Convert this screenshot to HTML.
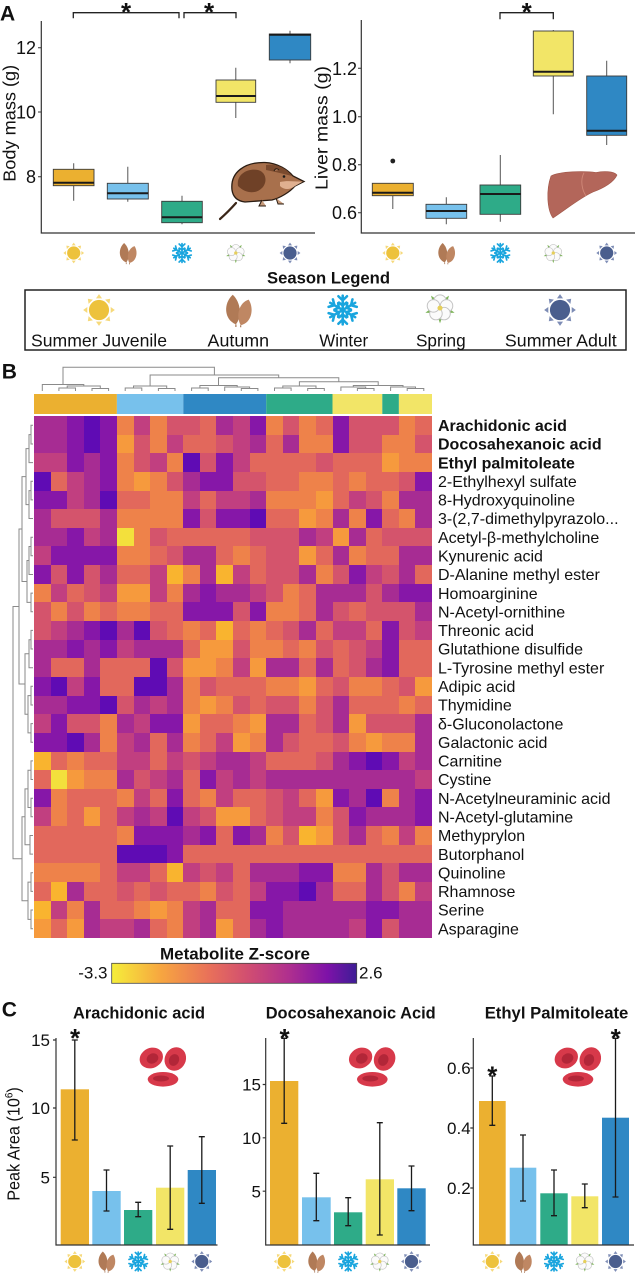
<!DOCTYPE html>
<html><head><meta charset="utf-8"><style>
html,body{margin:0;padding:0;background:#fff;}
body{width:639px;height:1280px;position:relative;overflow:hidden;}
svg.main{position:absolute;left:0;top:0;}
.h{position:absolute;left:34px;top:416px;width:398px;height:522px;display:grid;grid-template-columns:repeat(24,1fr);grid-template-rows:repeat(28,1fr);}
.h i{display:block;}
.Y{background:#f3e03c}.G{background:#f9b42f}.O{background:#f69a3d}.L{background:#ee824a}.C{background:#e2685c}.R{background:#d4546c}.M{background:#c13f80}.P{background:#a72c93}.V{background:#8617a8}.D{background:#5f0bb4}
text{font-family:"Liberation Sans",Arial,sans-serif;fill:#111;}
</style></head><body>
<svg class="main" width="639" height="1280" viewBox="0 0 639 1280">
<defs>
<path id="ray" d="M0 -9.9 L-1.9 -7.3 L1.9 -7.3Z"/>
<g id="rays"><use href="#ray"/><use href="#ray" transform="rotate(45)"/><use href="#ray" transform="rotate(90)"/><use href="#ray" transform="rotate(135)"/><use href="#ray" transform="rotate(180)"/><use href="#ray" transform="rotate(225)"/><use href="#ray" transform="rotate(270)"/><use href="#ray" transform="rotate(315)"/></g>
<path id="arm" d="M0 0V-9M-2.7 -8.6L0 -6L2.7 -8.6M-2.3 -4.6L0 -2.8L2.3 -4.6"/>
<symbol id="sj" viewBox="-10 -10 20 20" overflow="visible"><g fill="#f6d97a"><use href="#rays"/></g><circle r="6.3" fill="#edc23c"/></symbol>
<symbol id="sa" viewBox="-10 -10 20 20" overflow="visible"><g fill="#7d8cb5"><use href="#rays"/></g><circle r="6.3" fill="#4a5e8e"/></symbol>
<symbol id="sn" viewBox="-10 -10 20 20" overflow="visible"><g stroke="#19a5de" stroke-width="1.6" fill="none" stroke-linecap="round"><use href="#arm"/><use href="#arm" transform="rotate(60)"/><use href="#arm" transform="rotate(120)"/><use href="#arm" transform="rotate(180)"/><use href="#arm" transform="rotate(240)"/><use href="#arm" transform="rotate(300)"/></g></symbol>
<symbol id="lf" viewBox="-10 -10 20 20" overflow="visible">
<path d="M-1.5 9 C-9 6 -9.5 -4 -3.5 -9.5 C1.5 -5 2.5 4 -1.5 9Z" fill="#b07a56"/>
<path d="M1.5 9.5 C8.5 8 10 -1 6.5 -6.5 C1 -5 -2 3 1.5 9.5Z" fill="#bf8763"/>
<path d="M-1.5 9 V10.6 M1.5 9.5 V10.8" stroke="#a06d4c" stroke-width="0.7"/>
</symbol>
<symbol id="fl" viewBox="-10 -10 20 20" overflow="visible">
<g fill="#7fb55c"><path d="M0 -9.6L-1.3 -6L1.3 -6Z" transform="rotate(36)"/><path d="M0 -9.6L-1.3 -6L1.3 -6Z" transform="rotate(108)"/><path d="M0 -9.6L-1.3 -6L1.3 -6Z" transform="rotate(180)"/><path d="M0 -9.6L-1.3 -6L1.3 -6Z" transform="rotate(252)"/><path d="M0 -9.6L-1.3 -6L1.3 -6Z" transform="rotate(324)"/></g>
<g fill="#fbfbfb" stroke="#c2c2c2" stroke-width="0.6"><circle cx="0" cy="-4.3" r="3.9"/><circle cx="4.09" cy="-1.33" r="3.9"/><circle cx="2.53" cy="3.48" r="3.9"/><circle cx="-2.53" cy="3.48" r="3.9"/><circle cx="-4.09" cy="-1.33" r="3.9"/></g>
<circle r="1.6" fill="#e6cf5a"/>
</symbol>
<g id="rbc">
<ellipse cx="24" cy="31.3" rx="15.3" ry="7.3" fill="#d7394a"/>
<ellipse cx="22" cy="30.5" rx="8" ry="3" fill="#b22638"/>
<ellipse cx="12.3" cy="10" rx="12" ry="10" transform="rotate(-25 12.3 10)" fill="#d7394a"/>
<ellipse cx="13.5" cy="10.5" rx="6" ry="5" transform="rotate(-25 13.5 10.5)" fill="#b22638"/>
<ellipse cx="36.3" cy="11" rx="10.5" ry="12" transform="rotate(25 36.3 11)" fill="#d7394a"/>
<ellipse cx="35" cy="12" rx="5" ry="6" transform="rotate(25 35 12)" fill="#b22638"/>
</g>
<linearGradient id="cb" x1="0" x2="1" y1="0" y2="0">
<stop offset="0" stop-color="#f5ee3a"/><stop offset="0.2" stop-color="#f7a640"/><stop offset="0.4" stop-color="#e8705a"/><stop offset="0.55" stop-color="#d24f70"/><stop offset="0.72" stop-color="#b0308e"/><stop offset="0.88" stop-color="#7e12a8"/><stop offset="1" stop-color="#3d1d96"/>
</linearGradient>
</defs>

<!-- Panel A left -->
<text x="0" y="20.7" font-size="21" font-weight="bold">A</text>
<path d="M73.7 163.3V200.7M127.8 166.7V201.7M182 195.7V224.3M235.8 67.7V118M290 30.7V63.3" stroke="#555" stroke-width="1" fill="none"/>
<g stroke="#3a3a3a" stroke-width="0.9">
<rect x="53.3" y="169.3" width="40.7" height="16.4" fill="#ebb030"/>
<rect x="107.3" y="183.3" width="41" height="15.7" fill="#77c1ec"/>
<rect x="161.7" y="201.3" width="40.6" height="21.4" fill="#2eab88"/>
<rect x="216" y="80" width="39.7" height="22.3" fill="#f2e567"/>
<rect x="269.3" y="34" width="41.4" height="26" fill="#2f88c4"/>
</g>
<path d="M53.3 182.7H94M107.3 193.3H148.3M161.7 217.3H202.3M216 96H255.7M269.3 34.8H310.7" stroke="#1a1a1a" stroke-width="2"/>
<path d="M41.3 21V233H315" stroke="#333" stroke-width="1.2" fill="none"/>
<path d="M38 47.7H41.3M38 112H41.3M38 176.7H41.3" stroke="#333" stroke-width="1"/>
<g font-size="18" text-anchor="end"><text x="36" y="54.2">12</text><text x="36" y="118.5">10</text><text x="36" y="183.2">8</text></g>
<text transform="translate(15.5 123.3) rotate(-90)" font-size="17.5" text-anchor="middle" textLength="117" lengthAdjust="spacingAndGlyphs">Body mass (g)</text>
<path d="M73.3 18.3V12.7H179V18.3M184 18.3V12.7H236V18.3" stroke="#222" stroke-width="1.3" fill="none"/>
<text x="126" y="21" font-size="26" font-weight="bold" text-anchor="middle">*</text>
<text x="209" y="21" font-size="26" font-weight="bold" text-anchor="middle">*</text>
<use href="#sj" x="63.2" y="242.5" width="21" height="21"/>
<use href="#lf" x="117.3" y="242.5" width="21" height="21"/>
<use href="#sn" x="171.5" y="242.5" width="21" height="21"/>
<use href="#fl" x="225.3" y="242.5" width="21" height="21"/>
<use href="#sa" x="279.5" y="242.5" width="21" height="21"/>
<!-- shrew -->
<path d="M236 203 Q228 212 220 219" stroke="#3a2618" stroke-width="2.2" fill="none" stroke-linecap="round"/>
<path d="M232 190 C230 172 245 162 265 162.5 C278 163 288 170 293 176 L304 181.5 L295 186 C290 192 280 198 272 200 L245 202 C237 201 233 197 232 190Z" fill="#a8704c" stroke="#2a1c12" stroke-width="1.3"/>
<path d="M238 186 C236 174 248 168 258 170 C266 172 268 182 262 188 C256 194 246 194 238 186Z" fill="#6f4127"/>
<path d="M266 165 C278 163 288 170 292 176 C284 174 276 172 266 170Z" fill="#7a4a2e"/>
<path d="M280 182 C288 180 296 182 303 181.5 L295 186 C290 190 284 190 280 186Z" fill="#e0b090"/>
<circle cx="284" cy="176.5" r="1.3" fill="#1a1a1a"/>
<path d="M274 171 q2 -4 5 -1" stroke="#2a1c12" stroke-width="1" fill="#c08a68"/>
<path d="M262 200 l-3 6 h7 M276 198 l2 6 h6" stroke="#2a1c12" stroke-width="1" fill="#c79a7a"/>

<!-- Panel A right -->
<path d="M392.8 195.7V209M446.3 197.3V224.3M500.3 155V221.7M553.3 30V114.3M606.7 60.7V145" stroke="#555" stroke-width="1" fill="none"/>
<g stroke="#3a3a3a" stroke-width="0.9">
<rect x="372.3" y="183.3" width="41" height="12.4" fill="#ebb030"/>
<rect x="426" y="204.3" width="40.7" height="14" fill="#77c1ec"/>
<rect x="480" y="185" width="40.7" height="29.3" fill="#2eab88"/>
<rect x="533.3" y="31" width="40" height="45" fill="#f2e567"/>
<rect x="586.7" y="76" width="40" height="59.3" fill="#2f88c4"/>
</g>
<path d="M372.3 192.7H413.3M426 211H466.7M480 194H520.7M533.3 71.7H573.3M586.7 130.7H626.7" stroke="#1a1a1a" stroke-width="2"/>
<circle cx="392.8" cy="161" r="2.4" fill="#222"/>
<path d="M361.3 20V233H635" stroke="#333" stroke-width="1.2" fill="none"/>
<path d="M358 68.3H361.3M358 116.7H361.3M358 164.7H361.3M358 212.7H361.3" stroke="#333" stroke-width="1"/>
<g font-size="18" text-anchor="end"><text x="357" y="74.8">1.2</text><text x="357" y="123.2">1.0</text><text x="357" y="171.2">0.8</text><text x="357" y="219.2">0.6</text></g>
<text transform="translate(327.5 128) rotate(-90)" font-size="17.5" text-anchor="middle" textLength="124" lengthAdjust="spacingAndGlyphs">Liver mass (g)</text>
<path d="M500 19.3V12.7H553.3V19.3" stroke="#222" stroke-width="1.3" fill="none"/>
<text x="526.7" y="21" font-size="26" font-weight="bold" text-anchor="middle">*</text>
<use href="#sj" x="382.3" y="242.5" width="21" height="21"/>
<use href="#lf" x="435.8" y="242.5" width="21" height="21"/>
<use href="#sn" x="489.8" y="242.5" width="21" height="21"/>
<use href="#fl" x="542.8" y="242.5" width="21" height="21"/>
<use href="#sa" x="596.2" y="242.5" width="21" height="21"/>
<!-- liver -->
<path d="M551 176 C560 171 585 171 596 172.5 C603 171 614 171 617 175 C614 182 604 188 593 192 C580 198 568 208 553 218 C547 210 546 190 551 176Z" fill="#b3665a" stroke="#a05648" stroke-width="0.6"/>
<path d="M584 172.8 C580 180 582 190 586 196" stroke="#d08878" stroke-width="0.9" fill="none"/>

<!-- Legend -->
<text x="328.5" y="283.3" font-size="16.5" font-weight="bold" text-anchor="middle" textLength="123" lengthAdjust="spacingAndGlyphs">Season Legend</text>
<rect x="25" y="290" width="601" height="60" fill="none" stroke="#222" stroke-width="1.5"/>
<use href="#sj" x="83" y="294" width="32" height="32"/>
<use href="#lf" x="222.3" y="294" width="32" height="32"/>
<use href="#sn" x="326.7" y="294" width="32" height="32"/>
<use href="#fl" x="424" y="292" width="32" height="32"/>
<use href="#sa" x="544" y="294" width="32" height="32"/>
<g font-size="17.6" text-anchor="middle">
<text x="99" y="346.7" textLength="136" lengthAdjust="spacingAndGlyphs">Summer Juvenile</text>
<text x="238.3" y="346.7" textLength="61.5" lengthAdjust="spacingAndGlyphs">Autumn</text>
<text x="343.7" y="346.7" textLength="49" lengthAdjust="spacingAndGlyphs">Winter</text>
<text x="440.8" y="346.7" textLength="49.7" lengthAdjust="spacingAndGlyphs">Spring</text>
<text x="560.8" y="346.7" textLength="111.7" lengthAdjust="spacingAndGlyphs">Summer Adult</text>
</g>

<!-- Panel B -->
<text x="1.7" y="378.3" font-size="21" font-weight="bold">B</text>
<g stroke="#8a8a8a" stroke-width="1" fill="none">
<path d="M58.9 391V388H75.5V391M92 391V388.5H108.6V391M67.2 388V386H100.3V388.5M42.3 391V384.5H83.8V386"/>
<path d="M125.2 391V388H141.8V391M158.4 391V388.5H175V391M133.5 388V386H166.7V388.5"/>
<path d="M191.6 391V388H208.2V391M241.3 391V388.5H257.9V391M224.7 391V387H249.6V388.5M199.9 388V385.5H237.2V387"/>
<path d="M274.5 391V388H291.1V391M307.7 391V388.5H324.3V391M282.8 388V386H316V388.5"/>
<path d="M357.4 391V388.5H374V391M340.9 391V387H365.7V388.5M407.2 391V388.5H423.8V391M390.6 391V387H415.5V388.5M353.3 387V385.5H403V387"/>
<path d="M299.4 386V381.7H378.2V385.5M218.5 385.5V377.7H338.8V381.7M150.1 386V375H278.7V377.7M63 384.5V367.3H214.4V375"/>
<path d="M33 425.3H31V444H33M31 434.6H29V462.6H33M33 481.3H31V499.9H33M31 490.6H29V518.5H33M29 448.6H26V504.6H29"/>
<path d="M33 537.2H31V555.8H33M31 546.5H29V574.5H33M33 593.1H31V611.8H33M29 560.5H27V602.4H31M26 476.6H22V581.5H27"/>
<path d="M33 630.4H31V649H33M31 639.7H29V667.7H33M33 686.3H31V705H33M33 723.6H31V742.3H33M31 695.6H28V732.9H31M29 653.7H25V714.3H28M22 529H19V684H25"/>
<path d="M33 760.9H31V779.5H33M33 798.2H31V816.8H33M31 770.2H28V807.5H31M33 835.5H30V854.1H33M28 788.9H25V844.8H30"/>
<path d="M33 872.8H31V891.4H33M33 910H31V928.7H33M31 882.1H28V919.4H31M25 816.8H22V900.7H28M19 606.5H13V858.8H22"/>
</g>
<rect x="34" y="394" width="82.9" height="20" fill="#ebb030"/>
<rect x="116.9" y="394" width="66.4" height="20" fill="#77c1ec"/>
<rect x="183.3" y="394" width="82.9" height="20" fill="#2f88c4"/>
<rect x="266.2" y="394" width="66.3" height="20" fill="#2eab88"/>
<rect x="332.5" y="394" width="49.8" height="20" fill="#f2e567"/>
<rect x="382.3" y="394" width="16.6" height="20" fill="#2eab88"/>
<rect x="398.9" y="394" width="33.1" height="20" fill="#f2e567"/>
<g font-size="16">
<text x="438" y="431" font-weight="bold">Arachidonic acid</text>
<text x="438" y="449.7" font-weight="bold">Docosahexanoic acid</text>
<text x="438" y="468.3" font-weight="bold">Ethyl palmitoleate</text>
<text x="438" y="487">2-Ethylhexyl sulfate</text>
<text x="438" y="505.6">8-Hydroxyquinoline</text>
<text x="438" y="524.2">3-(2,7-dimethylpyrazolo...</text>
<text x="438" y="542.9">Acetyl-β-methylcholine</text>
<text x="438" y="561.5">Kynurenic acid</text>
<text x="438" y="580.2">D-Alanine methyl ester</text>
<text x="438" y="598.8">Homoarginine</text>
<text x="438" y="617.5">N-Acetyl-ornithine</text>
<text x="438" y="636.1">Threonic acid</text>
<text x="438" y="654.7">Glutathione disulfide</text>
<text x="438" y="673.4">L-Tyrosine methyl ester</text>
<text x="438" y="692">Adipic acid</text>
<text x="438" y="710.7">Thymidine</text>
<text x="438" y="729.3">δ-Gluconolactone</text>
<text x="438" y="748">Galactonic acid</text>
<text x="438" y="766.6">Carnitine</text>
<text x="438" y="785.2">Cystine</text>
<text x="438" y="803.9">N-Acetylneuraminic acid</text>
<text x="438" y="822.5">N-Acetyl-glutamine</text>
<text x="438" y="841.2">Methyprylon</text>
<text x="438" y="859.8">Butorphanol</text>
<text x="438" y="878.5">Quinoline</text>
<text x="438" y="897.1">Rhamnose</text>
<text x="438" y="915.7">Serine</text>
<text x="438" y="934.4">Asparagine</text>
</g>
<text x="235" y="959.3" font-size="16.5" font-weight="bold" text-anchor="middle" textLength="150" lengthAdjust="spacingAndGlyphs">Metabolite Z-score</text>
<rect x="111.7" y="963.3" width="245" height="20" fill="url(#cb)" stroke="#444" stroke-width="0.8"/>
<text x="107.5" y="978.5" font-size="17" text-anchor="end">-3.3</text>
<text x="359" y="978.5" font-size="17">2.6</text>

<!-- Panel C -->
<text x="1.7" y="1016.7" font-size="21" font-weight="bold">C</text>
<g font-size="17" font-weight="bold" text-anchor="middle">
<text x="139" y="1018.3" textLength="132" lengthAdjust="spacingAndGlyphs">Arachidonic acid</text>
<text x="350.7" y="1018.3" textLength="170" lengthAdjust="spacingAndGlyphs">Docosahexanoic Acid</text>
<text x="556.5" y="1018.3" textLength="143.6" lengthAdjust="spacingAndGlyphs">Ethyl Palmitoleate</text>
</g>
<use href="#rbc" x="139" y="1048"/>
<use href="#rbc" x="348.3" y="1048"/>
<use href="#rbc" x="554" y="1048"/>
<!-- C left bars -->
<rect x="60.7" y="1089.3" width="28.3" height="155.7" fill="#ebb030"/>
<rect x="92.3" y="1191" width="28.4" height="54" fill="#77c1ec"/>
<rect x="124" y="1210" width="28.3" height="35" fill="#2eab88"/>
<rect x="156" y="1187.7" width="28.3" height="57.3" fill="#f2e567"/>
<rect x="187.7" y="1170" width="28.3" height="75" fill="#2f88c4"/>
<!-- C mid bars -->
<rect x="270" y="1081" width="28.3" height="164" fill="#ebb030"/>
<rect x="302" y="1197.3" width="28.7" height="47.7" fill="#77c1ec"/>
<rect x="334" y="1212.3" width="28.3" height="32.7" fill="#2eab88"/>
<rect x="365.7" y="1179.3" width="28.3" height="65.7" fill="#f2e567"/>
<rect x="397.3" y="1188.3" width="28.4" height="56.7" fill="#2f88c4"/>
<!-- C right bars -->
<rect x="479" y="1101" width="26.7" height="144" fill="#ebb030"/>
<rect x="509.7" y="1167.7" width="26.6" height="77.3" fill="#77c1ec"/>
<rect x="540.3" y="1193.3" width="27.4" height="51.7" fill="#2eab88"/>
<rect x="571.3" y="1196.3" width="27" height="48.7" fill="#f2e567"/>
<rect x="602" y="1117.7" width="27" height="127.3" fill="#2f88c4"/>
<g stroke="#1a1a1a" stroke-width="1.3" fill="none">
<path d="M74.8 1040V1140M71.8 1040H77.8M71.8 1140H77.8"/>
<path d="M106.5 1170V1211M103.5 1170H109.5M103.5 1211H109.5"/>
<path d="M138.2 1202.3V1216.7M135.2 1202.3H141.2M135.2 1216.7H141.2"/>
<path d="M170.2 1146V1229.3M167.2 1146H173.2M167.2 1229.3H173.2"/>
<path d="M201.8 1136.7V1203.3M198.8 1136.7H204.8M198.8 1203.3H204.8"/>
<path d="M284.2 1038.3V1123.3M281.2 1038.3H287.2M281.2 1123.3H287.2"/>
<path d="M316.3 1173.3V1220.7M313.3 1173.3H319.3M313.3 1220.7H319.3"/>
<path d="M348.2 1197.7V1225.7M345.2 1197.7H351.2M345.2 1225.7H351.2"/>
<path d="M379.8 1122.7V1235M376.8 1122.7H382.8M376.8 1235H382.8"/>
<path d="M411.5 1166V1210.7M408.5 1166H414.5M408.5 1210.7H414.5"/>
<path d="M492.3 1076V1125.3M489.3 1076H495.3M489.3 1125.3H495.3"/>
<path d="M523 1135V1201M520 1135H526M520 1201H526"/>
<path d="M554 1170V1215.7M551 1170H557M551 1215.7H557"/>
<path d="M584.8 1184V1207.7M581.8 1184H587.8M581.8 1207.7H587.8"/>
<path d="M615.5 1038.3V1197M612.5 1038.3H618.5M612.5 1197H618.5"/>
</g>
<g stroke="#333" stroke-width="1.2" fill="none">
<path d="M56 1038V1245H217.5"/>
<path d="M265.7 1038V1245H430"/>
<path d="M473.3 1038V1245H634"/>
<path d="M53 1040H56M53 1108H56M53 1177.3H56"/>
<path d="M262.7 1084.5H265.7M262.7 1137.8H265.7M262.7 1191.2H265.7"/>
<path d="M470.3 1068H473.3M470.3 1128H473.3M470.3 1188H473.3"/>
</g>
<g font-size="17" text-anchor="end">
<text x="50" y="1046.2">15</text><text x="50" y="1114.2">10</text><text x="50" y="1183.5">5</text>
<text x="261" y="1090.7">15</text><text x="261" y="1144">10</text><text x="261" y="1197.4">5</text>
<text x="470.7" y="1074.2">0.6</text><text x="470.7" y="1134.2">0.4</text><text x="470.7" y="1194.2">0.2</text>
</g>
<text transform="translate(19.5 1144) rotate(-90) scale(0.9 1)" font-size="18" text-anchor="middle">Peak Area (10<tspan font-size="11" dy="-7">6</tspan><tspan dy="7">)</tspan></text>
<g font-size="26" font-weight="bold" text-anchor="middle">
<text x="75" y="1047">*</text>
<text x="284.5" y="1047">*</text>
<text x="492.3" y="1084.5">*</text>
<text x="615.7" y="1047">*</text>
</g>
<use href="#sj" x="64.3" y="1251" width="21" height="21"/>
<use href="#lf" x="96" y="1251" width="21" height="21"/>
<use href="#sn" x="127.7" y="1251" width="21" height="21"/>
<use href="#fl" x="159.7" y="1251" width="21" height="21"/>
<use href="#sa" x="191.3" y="1251" width="21" height="21"/>
<use href="#sj" x="273.7" y="1251" width="21" height="21"/>
<use href="#lf" x="305.8" y="1251" width="21" height="21"/>
<use href="#sn" x="337.7" y="1251" width="21" height="21"/>
<use href="#fl" x="369.3" y="1251" width="21" height="21"/>
<use href="#sa" x="401" y="1251" width="21" height="21"/>
<use href="#sj" x="481.8" y="1251" width="21" height="21"/>
<use href="#lf" x="512.5" y="1251" width="21" height="21"/>
<use href="#sn" x="543.5" y="1251" width="21" height="21"/>
<use href="#fl" x="574.3" y="1251" width="21" height="21"/>
<use href="#sa" x="605" y="1251" width="21" height="21"/>
</svg>

<div class="h">
<i class=P></i><i class=P></i><i class=V></i><i class=D></i><i class=V></i><i class=L></i><i class=M></i><i class=L></i><i class=R></i><i class=R></i><i class=C></i><i class=P></i><i class=M></i><i class=V></i><i class=L></i><i class=R></i><i class=L></i><i class=C></i><i class=V></i><i class=R></i><i class=R></i><i class=R></i><i class=L></i><i class=C></i>
<i class=P></i><i class=P></i><i class=V></i><i class=D></i><i class=V></i><i class=O></i><i class=R></i><i class=L></i><i class=M></i><i class=C></i><i class=C></i><i class=R></i><i class=M></i><i class=P></i><i class=C></i><i class=P></i><i class=L></i><i class=L></i><i class=V></i><i class=R></i><i class=R></i><i class=L></i><i class=L></i><i class=R></i>
<i class=M></i><i class=M></i><i class=V></i><i class=P></i><i class=V></i><i class=L></i><i class=R></i><i class=M></i><i class=L></i><i class=D></i><i class=R></i><i class=V></i><i class=M></i><i class=C></i><i class=C></i><i class=C></i><i class=C></i><i class=R></i><i class=C></i><i class=C></i><i class=C></i><i class=O></i><i class=L></i><i class=L></i>
<i class=D></i><i class=C></i><i class=M></i><i class=P></i><i class=V></i><i class=L></i><i class=O></i><i class=L></i><i class=R></i><i class=P></i><i class=V></i><i class=V></i><i class=R></i><i class=R></i><i class=C></i><i class=C></i><i class=L></i><i class=L></i><i class=C></i><i class=L></i><i class=C></i><i class=C></i><i class=R></i><i class=V></i>
<i class=V></i><i class=V></i><i class=M></i><i class=P></i><i class=D></i><i class=C></i><i class=C></i><i class=L></i><i class=L></i><i class=M></i><i class=C></i><i class=M></i><i class=M></i><i class=P></i><i class=L></i><i class=L></i><i class=L></i><i class=O></i><i class=C></i><i class=M></i><i class=R></i><i class=L></i><i class=P></i><i class=P></i>
<i class=P></i><i class=R></i><i class=R></i><i class=R></i><i class=P></i><i class=L></i><i class=L></i><i class=L></i><i class=L></i><i class=V></i><i class=R></i><i class=V></i><i class=V></i><i class=D></i><i class=C></i><i class=C></i><i class=O></i><i class=L></i><i class=P></i><i class=L></i><i class=V></i><i class=C></i><i class=L></i><i class=P></i>
<i class=P></i><i class=P></i><i class=V></i><i class=M></i><i class=P></i><i class=Y></i><i class=L></i><i class=R></i><i class=C></i><i class=C></i><i class=C></i><i class=C></i><i class=C></i><i class=R></i><i class=R></i><i class=R></i><i class=P></i><i class=M></i><i class=O></i><i class=P></i><i class=C></i><i class=R></i><i class=R></i><i class=R></i>
<i class=M></i><i class=V></i><i class=V></i><i class=V></i><i class=V></i><i class=L></i><i class=L></i><i class=C></i><i class=R></i><i class=P></i><i class=P></i><i class=C></i><i class=L></i><i class=C></i><i class=R></i><i class=R></i><i class=O></i><i class=C></i><i class=P></i><i class=L></i><i class=C></i><i class=C></i><i class=P></i><i class=P></i>
<i class=V></i><i class=R></i><i class=V></i><i class=R></i><i class=P></i><i class=C></i><i class=C></i><i class=M></i><i class=G></i><i class=L></i><i class=P></i><i class=G></i><i class=M></i><i class=C></i><i class=R></i><i class=R></i><i class=P></i><i class=L></i><i class=R></i><i class=V></i><i class=M></i><i class=R></i><i class=P></i><i class=C></i>
<i class=L></i><i class=M></i><i class=C></i><i class=R></i><i class=M></i><i class=O></i><i class=O></i><i class=M></i><i class=L></i><i class=P></i><i class=V></i><i class=P></i><i class=P></i><i class=M></i><i class=R></i><i class=L></i><i class=C></i><i class=P></i><i class=P></i><i class=P></i><i class=R></i><i class=P></i><i class=V></i><i class=V></i>
<i class=R></i><i class=L></i><i class=R></i><i class=L></i><i class=C></i><i class=L></i><i class=L></i><i class=C></i><i class=C></i><i class=V></i><i class=V></i><i class=V></i><i class=R></i><i class=V></i><i class=L></i><i class=L></i><i class=C></i><i class=P></i><i class=R></i><i class=C></i><i class=R></i><i class=R></i><i class=R></i><i class=P></i>
<i class=R></i><i class=M></i><i class=P></i><i class=V></i><i class=D></i><i class=P></i><i class=D></i><i class=R></i><i class=C></i><i class=L></i><i class=C></i><i class=G></i><i class=C></i><i class=L></i><i class=C></i><i class=R></i><i class=P></i><i class=C></i><i class=M></i><i class=M></i><i class=C></i><i class=V></i><i class=R></i><i class=M></i>
<i class=P></i><i class=P></i><i class=V></i><i class=P></i><i class=V></i><i class=M></i><i class=P></i><i class=P></i><i class=P></i><i class=C></i><i class=O></i><i class=O></i><i class=R></i><i class=L></i><i class=L></i><i class=C></i><i class=L></i><i class=R></i><i class=C></i><i class=R></i><i class=M></i><i class=V></i><i class=C></i><i class=C></i>
<i class=P></i><i class=C></i><i class=C></i><i class=P></i><i class=C></i><i class=C></i><i class=C></i><i class=D></i><i class=R></i><i class=O></i><i class=O></i><i class=L></i><i class=M></i><i class=O></i><i class=P></i><i class=P></i><i class=C></i><i class=P></i><i class=C></i><i class=R></i><i class=P></i><i class=V></i><i class=C></i><i class=C></i>
<i class=V></i><i class=D></i><i class=M></i><i class=V></i><i class=C></i><i class=C></i><i class=D></i><i class=D></i><i class=P></i><i class=L></i><i class=R></i><i class=C></i><i class=C></i><i class=C></i><i class=L></i><i class=L></i><i class=O></i><i class=C></i><i class=R></i><i class=L></i><i class=L></i><i class=C></i><i class=R></i><i class=O></i>
<i class=P></i><i class=P></i><i class=V></i><i class=V></i><i class=D></i><i class=R></i><i class=P></i><i class=M></i><i class=P></i><i class=L></i><i class=O></i><i class=L></i><i class=R></i><i class=C></i><i class=R></i><i class=R></i><i class=L></i><i class=R></i><i class=P></i><i class=C></i><i class=C></i><i class=C></i><i class=L></i><i class=C></i>
<i class=M></i><i class=V></i><i class=R></i><i class=R></i><i class=L></i><i class=P></i><i class=M></i><i class=V></i><i class=V></i><i class=O></i><i class=C></i><i class=C></i><i class=L></i><i class=O></i><i class=P></i><i class=P></i><i class=C></i><i class=R></i><i class=P></i><i class=O></i><i class=R></i><i class=R></i><i class=R></i><i class=P></i>
<i class=V></i><i class=V></i><i class=D></i><i class=P></i><i class=L></i><i class=M></i><i class=P></i><i class=C></i><i class=P></i><i class=L></i><i class=C></i><i class=M></i><i class=O></i><i class=L></i><i class=P></i><i class=R></i><i class=C></i><i class=C></i><i class=R></i><i class=L></i><i class=O></i><i class=L></i><i class=L></i><i class=P></i>
<i class=G></i><i class=C></i><i class=L></i><i class=C></i><i class=C></i><i class=M></i><i class=M></i><i class=C></i><i class=M></i><i class=R></i><i class=M></i><i class=P></i><i class=P></i><i class=M></i><i class=C></i><i class=C></i><i class=C></i><i class=R></i><i class=P></i><i class=V></i><i class=D></i><i class=V></i><i class=M></i><i class=P></i>
<i class=C></i><i class=Y></i><i class=O></i><i class=L></i><i class=L></i><i class=P></i><i class=R></i><i class=M></i><i class=P></i><i class=C></i><i class=V></i><i class=M></i><i class=P></i><i class=M></i><i class=P></i><i class=P></i><i class=P></i><i class=P></i><i class=P></i><i class=P></i><i class=P></i><i class=P></i><i class=P></i><i class=M></i>
<i class=V></i><i class=L></i><i class=C></i><i class=C></i><i class=C></i><i class=L></i><i class=M></i><i class=C></i><i class=V></i><i class=C></i><i class=L></i><i class=M></i><i class=C></i><i class=C></i><i class=R></i><i class=M></i><i class=C></i><i class=O></i><i class=V></i><i class=P></i><i class=D></i><i class=L></i><i class=P></i><i class=V></i>
<i class=M></i><i class=L></i><i class=C></i><i class=O></i><i class=C></i><i class=M></i><i class=P></i><i class=M></i><i class=D></i><i class=M></i><i class=R></i><i class=O></i><i class=O></i><i class=C></i><i class=R></i><i class=M></i><i class=M></i><i class=L></i><i class=R></i><i class=V></i><i class=P></i><i class=P></i><i class=P></i><i class=V></i>
<i class=C></i><i class=C></i><i class=C></i><i class=C></i><i class=C></i><i class=L></i><i class=V></i><i class=V></i><i class=V></i><i class=P></i><i class=V></i><i class=C></i><i class=V></i><i class=P></i><i class=L></i><i class=R></i><i class=G></i><i class=O></i><i class=R></i><i class=P></i><i class=C></i><i class=L></i><i class=M></i><i class=L></i>
<i class=C></i><i class=C></i><i class=C></i><i class=C></i><i class=C></i><i class=D></i><i class=D></i><i class=D></i><i class=V></i><i class=C></i><i class=C></i><i class=C></i><i class=C></i><i class=C></i><i class=C></i><i class=C></i><i class=C></i><i class=C></i><i class=C></i><i class=C></i><i class=C></i><i class=C></i><i class=C></i><i class=C></i>
<i class=L></i><i class=L></i><i class=L></i><i class=L></i><i class=C></i><i class=M></i><i class=M></i><i class=C></i><i class=G></i><i class=M></i><i class=R></i><i class=M></i><i class=C></i><i class=P></i><i class=P></i><i class=P></i><i class=V></i><i class=V></i><i class=L></i><i class=L></i><i class=P></i><i class=R></i><i class=P></i><i class=P></i>
<i class=C></i><i class=G></i><i class=P></i><i class=C></i><i class=C></i><i class=R></i><i class=C></i><i class=R></i><i class=C></i><i class=C></i><i class=L></i><i class=R></i><i class=C></i><i class=M></i><i class=V></i><i class=V></i><i class=D></i><i class=P></i><i class=C></i><i class=C></i><i class=P></i><i class=R></i><i class=L></i><i class=M></i>
<i class=G></i><i class=M></i><i class=L></i><i class=P></i><i class=C></i><i class=C></i><i class=L></i><i class=O></i><i class=L></i><i class=M></i><i class=P></i><i class=C></i><i class=C></i><i class=V></i><i class=V></i><i class=P></i><i class=P></i><i class=P></i><i class=P></i><i class=P></i><i class=V></i><i class=V></i><i class=P></i><i class=P></i>
<i class=O></i><i class=C></i><i class=O></i><i class=P></i><i class=M></i><i class=M></i><i class=P></i><i class=C></i><i class=L></i><i class=M></i><i class=P></i><i class=O></i><i class=C></i><i class=P></i><i class=V></i><i class=P></i><i class=P></i><i class=P></i><i class=P></i><i class=M></i><i class=V></i><i class=R></i><i class=P></i><i class=P></i>
</div>
</body></html>
